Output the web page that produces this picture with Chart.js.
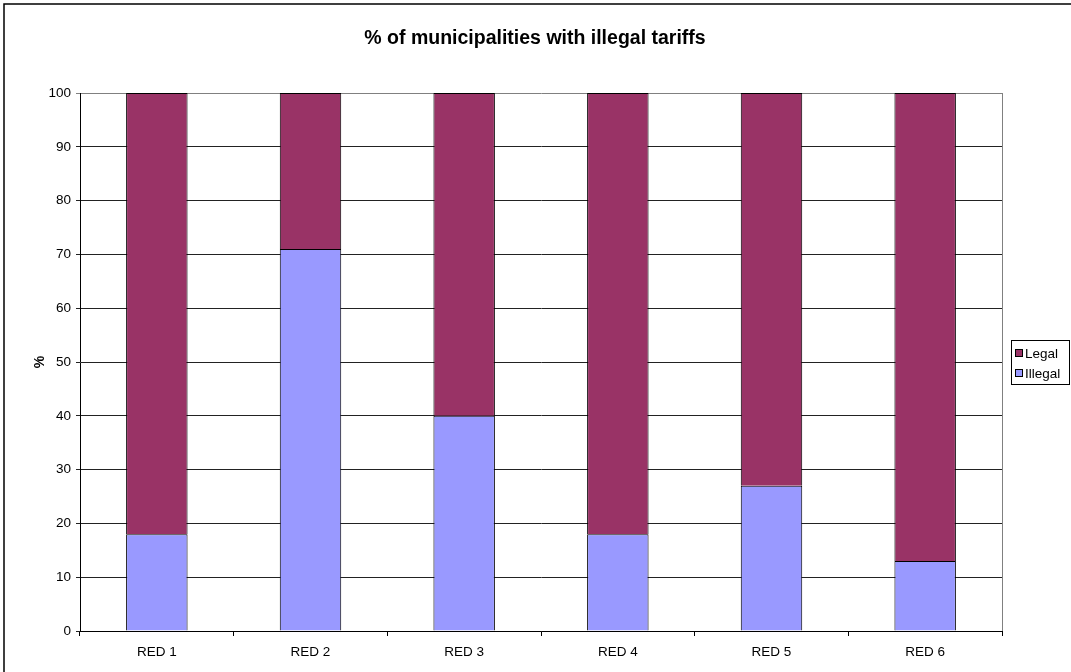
<!DOCTYPE html>
<html>
<head>
<meta charset="utf-8">
<script src="https://cdn.jsdelivr.net/npm/chart.js@4.4.1/dist/chart.umd.min.js"></script>
<style>
    html, body { margin: 0; padding: 0; background: #fff; }
    #wrap { position: relative; width: 1071px; height: 672px; }
</style>
</head>
<body>
<div id="wrap"><canvas id="bar-chart"></canvas></div>
<script>
var chartTitle = '% of municipalities with illegal tariffs';
var categories = ['RED 1', 'RED 2', 'RED 3', 'RED 4', 'RED 5', 'RED 6'];
var illegalValues = [18, 71, 40, 18, 27, 13];
var legalValues = [82, 29, 60, 82, 73, 87];
var seriesNames = ['Legal', 'Illegal'];
var seriesColors = ['#993366', '#9999FF'];

var FONT = "'Liberation Sans', Arial, sans-serif";

// white page, outer frame, title, plot border and the boxed legend
var excelLook = {
    id: 'excelLook',
    beforeDraw: function(chart) {
        var ctx = chart.ctx;
        ctx.save();
        ctx.fillStyle = '#fff';
        ctx.fillRect(0, 0, chart.width, chart.height);
        ctx.restore();
    },
    beforeDatasetsDraw: function(chart) {
        var ctx = chart.ctx, a = chart.chartArea;
        ctx.save();
        ctx.strokeStyle = '#808080';
        ctx.lineWidth = 1;
        ctx.beginPath();
        ctx.moveTo(Math.round(a.right) + 0.5, a.top);
        ctx.lineTo(Math.round(a.right) + 0.5, a.bottom);
        ctx.stroke();
        ctx.restore();
    },
    afterDraw: function(chart) {
        var ctx = chart.ctx;
        ctx.save();
        // outer frame (top and left visible)
        ctx.strokeStyle = '#000';
        ctx.lineWidth = 1.5;
        ctx.beginPath();
        ctx.moveTo(4, chart.height);
        ctx.lineTo(4, 4);
        ctx.lineTo(chart.width, 4);
        ctx.stroke();

        // title, centred on the whole chart
        ctx.fillStyle = '#000';
        ctx.font = 'bold 19.5px ' + FONT;
        ctx.textAlign = 'center';
        ctx.textBaseline = 'middle';
        ctx.fillText(chartTitle, 535, 39);

        // legend
        var lx = 1011, ly = 340, lw = 58, lh = 44;
        ctx.lineWidth = 1;
        ctx.strokeStyle = '#000';
        ctx.strokeRect(lx + 0.5, ly + 0.5, lw, lh);
        ctx.font = '13.5px ' + FONT;
        ctx.textAlign = 'left';
        for (var i = 0; i < seriesNames.length; i++) {
            var cy = ly + 13 + i * 20;
            ctx.fillStyle = seriesColors[i];
            ctx.fillRect(lx + 4, cy - 4, 8, 8);
            ctx.strokeRect(lx + 4.5, cy - 3.5, 7, 7);
            ctx.fillStyle = '#000';
            ctx.fillText(seriesNames[i], lx + 14, cy + 1);
        }
        ctx.restore();
    }
};

function drawGraph() {
    var ctx = document.getElementById('bar-chart').getContext('2d');
    return new Chart(ctx, {
        type: 'bar',
        data: {
            labels: categories,
            datasets: [{
                label: seriesNames[1],
                data: illegalValues,
                backgroundColor: seriesColors[1],
                borderColor: '#000',
                borderWidth: 1
            }, {
                label: seriesNames[0],
                data: legalValues,
                backgroundColor: seriesColors[0],
                borderColor: '#000',
                borderWidth: 1
            }]
        },
        options: {
            responsive: true,
            maintainAspectRatio: false,
            animation: false,
            layout: { padding: { left: 0, right: 69, top: 93, bottom: 0 } },
            datasets: { bar: { categoryPercentage: 1, barPercentage: 0.4 } },
            plugins: {
                legend: { display: false },
                tooltip: { enabled: false },
                title: { display: false }
            },
            scales: {
                x: {
                    stacked: true,
                    afterFit: function(s) { s.height = 41; },
                    border: { color: '#000', width: 1 },
                    grid: { drawOnChartArea: false, drawTicks: true, tickLength: 5, color: '#000', offset: true },
                    ticks: { color: '#000', padding: 8, font: { family: FONT, size: 13.5 } }
                },
                y: {
                    stacked: true,
                    min: 0,
                    max: 100,
                    afterFit: function(s) { s.width = 80; },
                    border: { color: '#000', width: 1 },
                    grid: {
                        tickLength: 4,
                        color: function(c) { return c.tick && c.tick.value === 100 ? '#808080' : '#222'; }
                    },
                    ticks: { stepSize: 10, color: '#000', padding: 5, font: { family: FONT, size: 13.5 } },
                    title: {
                        display: true,
                        text: '%',
                        color: '#000',
                        font: { family: FONT, size: 14, weight: 'bold' },
                        padding: { top: 32, bottom: 0 }
                    }
                }
            }
        },
        plugins: [excelLook]
    });
}

window.addEventListener('load', function() {
    drawGraph();
});
</script>
</body>
</html>
